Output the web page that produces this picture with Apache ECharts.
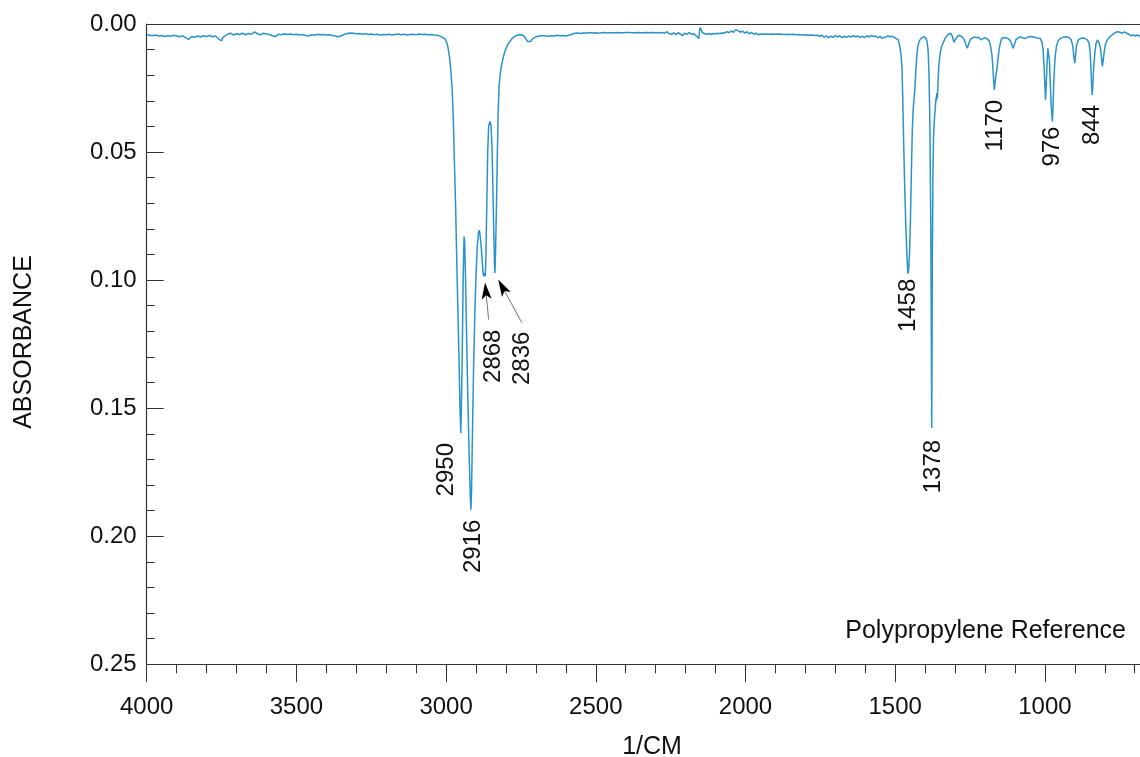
<!DOCTYPE html>
<html><head><meta charset="utf-8">
<script src="https://cdn.jsdelivr.net/npm/echarts@6/dist/echarts.min.js"></script>
<style>html,body{margin:0;padding:0;background:#fff}#c{width:1140px;height:757px}</style>
</head><body><div id="c"></div>
<script>
// ---- Data ----
const wavenumbers = [
4000,3990,3980,3970,3960,3950,3940,3930,3920,3910,3900,3890,3880,3870,3860,3850,3840,3830,3820,3810,
3800,3790,3780,3770,3760,3750,3745,3740,3730,3720,3710,3700,3690,3680,3670,3660,3650,3640,3630,3620,
3610,3600,3590,3580,3570,3560,3550,3540,3530,3520,3510,3500,3490,3480,3470,3460,3450,3440,3430,3420,
3410,3400,3390,3380,3370,3360,3350,3340,3330,3320,3310,3300,3290,3280,3270,3260,3250,3240,3230,3220,
3210,3200,3190,3180,3170,3160,3150,3140,3130,3120,3110,3100,3090,3080,3070,3060,3050,3040,3030,3020,
3012,3004,2998,2993,2988,2984,2980,2976,2972,2968,2965,2961,2957,2954,2951,2949,2946,2943,2940,2938,
2935,2931,2927,2923,2919,2917,2915,2912,2908,2904,2900,2896,2892,2889,2886,2882,2878,2875,2872,2869,
2867,2864,2861,2858,2854,2850,2847,2844,2841,2838,2837,2835,2832,2829,2826,2823,2818,2813,2808,2803,
2795,2787,2778,2768,2760,2750,2742,2735,2728,2724,2718,2710,2700,2690,2680,2670,2660,2650,2640,2630,
2620,2610,2600,2590,2580,2570,2560,2550,2540,2530,2520,2510,2500,2490,2480,2470,2460,2450,2440,2430,
2420,2410,2400,2390,2380,2370,2360,2350,2340,2330,2320,2310,2300,2290,2280,2270,2262,2255,2248,2240,
2232,2225,2218,2210,2203,2195,2188,2180,2172,2165,2160,2156,2152,2148,2144,2138,2130,2122,2115,2108,
2100,2092,2085,2078,2070,2062,2055,2048,2040,2033,2029,2025,2018,2010,2002,1995,1988,1980,1972,1965,
1958,1950,1940,1930,1920,1910,1900,1890,1880,1870,1860,1850,1840,1830,1820,1810,1800,1790,1780,1770,
1760,1752,1745,1738,1730,1722,1715,1708,1700,1692,1685,1678,1670,1662,1655,1648,1640,1632,1625,1618,
1610,1602,1595,1588,1580,1572,1565,1558,1550,1545,1540,1532,1525,1518,1510,1503,1497,1490,1485,1480,
1477,1474,1471,1468,1465,1462,1459,1457,1455,1452,1449,1446,1443,1440,1437,1434,1431,1428,1424,1419,
1413,1406,1399,1394,1390,1387,1384,1381,1379,1378,1377,1376,1374,1372,1369,1367,1365,1363,1362,1361,
1359,1357,1355,1352,1349,1345,1340,1335,1330,1322,1315,1309,1304,1300,1295,1289,1283,1277,1270,1264,
1259,1254,1248,1242,1235,1228,1221,1214,1208,1200,1193,1186,1181,1177,1174,1172,1169,1166,1163,1160,
1157,1153,1149,1144,1138,1130,1122,1115,1110,1106,1102,1097,1090,1083,1075,1066,1058,1050,1041,1033,
1025,1016,1010,1006,1003,1000,998,996,993,990,988,985,982,979,975,973,971,968,965,961,
956,948,940,930,920,912,907,903,900,897,894,888,880,870,860,853,849,846,844,842,
840,837,833,829,825,820,815,811,808,805,802,798,793,785,775,765,758,750,742,735,
728,720,712,705,698,690,683,675,668,660,650,640,630,620
];
const absorbance = [
.0042,.0044,.0046,.0043,.0047,.0045,.0049,.0046,.0048,.0044,.0047,.0050,.0046,.0053,.0060,.0049,.0052,.0047,.0051,.0046,
.0049,.0045,.0050,.0047,.0058,.0066,.0052,.0057,.0040,.0036,.0043,.0038,.0041,.0036,.0042,.0037,.0040,.0031,.0038,.0042,
.0036,.0039,.0041,.0046,.0049,.0040,.0042,.0038,.0041,.0039,.0042,.0040,.0043,.0041,.0045,.0047,.0042,.0044,.0040,.0042,
.0041,.0043,.0042,.0045,.0047,.0050,.0046,.0041,.0037,.0035,.0036,.0038,.0037,.0040,.0038,.0041,.0039,.0042,.0040,.0043,
.0041,.0042,.0040,.0043,.0041,.0039,.0042,.0040,.0043,.0041,.0040,.0042,.0039,.0041,.0040,.0042,.0041,.0043,.0044,.0047,
.0052,.0058,.0072,.0095,.0135,.0185,.0250,.0370,.0550,.0720,.0890,.1100,.1300,.1480,.1597,.1500,.1280,.0990,.0830,.0850,
.1000,.1250,.1480,.1680,.1850,.1896,.1820,.1600,.1330,.1130,.0980,.0870,.0815,.0805,.0830,.0880,.0950,.0985,.0972,.0985,
.0900,.0700,.0500,.0400,.0380,.0395,.0470,.0620,.0800,.0950,.0972,.0900,.0720,.0520,.0340,.0240,.0185,.0150,.0125,.0105,
.0082,.0068,.0055,.0046,.0043,.0042,.0045,.0055,.0068,.0075,.0068,.0056,.0050,.0047,.0046,.0046,.0048,.0046,.0047,.0044,
.0046,.0045,.0047,.0044,.0040,.0036,.0035,.0037,.0034,.0036,.0033,.0035,.0034,.0036,.0034,.0033,.0035,.0034,.0034,.0033,
.0034,.0034,.0033,.0033,.0034,.0034,.0033,.0034,.0034,.0033,.0034,.0033,.0034,.0034,.0033,.0036,.0030,.0038,.0040,.0035,
.0042,.0034,.0039,.0045,.0036,.0040,.0033,.0041,.0038,.0046,.0040,.0056,.0014,.0022,.0034,.0036,.0040,.0038,.0041,.0037,
.0039,.0036,.0038,.0034,.0036,.0030,.0034,.0028,.0032,.0022,.0017,.0026,.0032,.0028,.0036,.0030,.0038,.0033,.0040,.0036,
.0042,.0039,.0040,.0039,.0040,.0039,.0040,.0039,.0040,.0041,.0040,.0041,.0040,.0042,.0041,.0043,.0042,.0044,.0043,.0045,
.0044,.0048,.0044,.0052,.0046,.0054,.0047,.0052,.0045,.0050,.0046,.0053,.0048,.0052,.0047,.0051,.0046,.0050,.0047,.0052,
.0048,.0053,.0046,.0050,.0045,.0049,.0047,.0054,.0048,.0056,.0049,.0051,.0046,.0050,.0048,.0052,.0055,.0062,.0085,.0125,
.0180,.0330,.0500,.0650,.0770,.0870,.0950,.0975,.0960,.0890,.0760,.0580,.0420,.0335,.0290,.0250,.0180,.0125,.0085,.0065,
.0055,.0050,.0053,.0065,.0105,.0200,.0400,.0800,.1300,.1577,.1300,.0930,.0600,.0440,.0370,.0340,.0310,.0285,.0300,.0270,
.0290,.0230,.0175,.0135,.0108,.0088,.0074,.0060,.0050,.0040,.0036,.0048,.0072,.0062,.0056,.0044,.0046,.0050,.0060,.0080,
.0095,.0075,.0058,.0052,.0050,.0054,.0052,.0062,.0055,.0053,.0058,.0066,.0090,.0120,.0165,.0205,.0257,.0225,.0195,.0175,
.0140,.0100,.0075,.0056,.0050,.0053,.0058,.0066,.0082,.0095,.0080,.0062,.0055,.0050,.0054,.0057,.0052,.0049,.0050,.0053,
.0055,.0056,.0070,.0100,.0160,.0240,.0296,.0250,.0160,.0095,.0090,.0140,.0230,.0320,.0381,.0330,.0250,.0170,.0120,.0085,
.0066,.0056,.0052,.0050,.0053,.0062,.0085,.0130,.0153,.0115,.0082,.0062,.0056,.0055,.0060,.0072,.0105,.0180,.0240,.0277,
.0240,.0170,.0110,.0075,.0062,.0070,.0090,.0130,.0166,.0140,.0110,.0080,.0065,.0052,.0042,.0034,.0030,.0032,.0036,.0031,
.0035,.0040,.0046,.0043,.0047,.0043,.0048,.0045,.0049,.0046,.0048,.0047,.0049,.0047
];
const xTickLabels = [4000, 3500, 3000, 2500, 2000, 1500, 1000];
const yTickLabels = ['0.00', '0.05', '0.10', '0.15', '0.20', '0.25'];

const peakLabels = ['2950', '2916', '1458', '1378', '1170', '976', '844'];
const peakWavenumbers = [2951, 2917, 1457, 1378, 1169, 975, 842];
const peakAbsorbance = [0.1597, 0.1896, 0.0975, 0.1577, 0.0257, 0.0381, 0.0277];

const arrowLabels = ['2868', '2836'];
const arrowTipWn = [2870, 2826];
const arrowTipAbs = [0.1009, 0.0998];
const arrowTailWn = [2858, 2747];
const arrowTailAbs = [0.1154, 0.1166];
const arrowLabelWn = [2843, 2745];
const arrowLabelAbs = [0.1193, 0.1201];

// ---- Chart ----
const FONT = '"Liberation Sans", Arial, Helvetica, sans-serif';
const AXIS = '#333';
const TEXT = '#111';
const series = wavenumbers.map((w, i) => [w, absorbance[i]]);

const chart = echarts.init(document.getElementById('c'), null, {renderer: 'canvas'});
chart.setOption({
  animation: false,
  backgroundColor: '#fff',
  grid: {left: 146.7, top: 24, width: 1047.9, height: 640.3, show: false,
         containLabel: false, outerBoundsMode: 'none'},
  xAxis: [{
    type: 'value', inverse: true, min: 500, max: 4000, interval: 500,
    axisLine: {show: true, onZero: false, lineStyle: {color: AXIS, width: 1.2}},
    axisTick: {show: true, inside: false, length: 18, lineStyle: {color: AXIS}},
    minorTick: {show: true, splitNumber: 5, length: 9, lineStyle: {color: AXIS}},
    splitLine: {show: false}, minorSplitLine: {show: false},
    axisLabel: {margin: 31, color: TEXT, fontSize: 24, fontFamily: FONT,
      formatter: v => xTickLabels.indexOf(v) >= 0 ? String(v) : ''}
  }, {
    type: 'value', position: 'top', inverse: true, min: 500, max: 4000, interval: 500,
    axisLine: {show: true, onZero: false, lineStyle: {color: AXIS, width: 1.2}},
    axisTick: {show: false}, axisLabel: {show: false}, splitLine: {show: false}
  }],
  yAxis: {
    type: 'value', inverse: true, min: 0, max: 0.25, interval: 0.05,
    axisLine: {show: true, onZero: false, lineStyle: {color: AXIS, width: 1.2}},
    axisTick: {show: true, inside: true, length: 17, lineStyle: {color: AXIS}},
    minorTick: {show: true, splitNumber: 5, length: 8, lineStyle: {color: AXIS}},
    splitLine: {show: false}, minorSplitLine: {show: false},
    axisLabel: {margin: 10, color: TEXT, fontSize: 24, fontFamily: FONT,
      formatter: v => yTickLabels[Math.round(v / 0.05)] || ''}
  },
  series: [{
    type: 'line', xAxisIndex: 0, data: series, showSymbol: false, symbol: 'none', smooth: false,
    sampling: null, clip: true,
    lineStyle: {color: '#2b93cc', width: 1.5}
  }]
});

// Annotations positioned through the chart's own scales
const txt = (t, x, y, rot, align, valign, size) => ({
  type: 'text', x: x, y: y, rotation: rot, silent: true, z: 100,
  style: {text: t, fill: TEXT, fontSize: size || 24, fontFamily: FONT,
          textAlign: align, textVerticalAlign: valign, align: align, verticalAlign: valign}
});
const toPx = (w, a) => chart.convertToPixel({xAxisIndex: 0, yAxisIndex: 0}, [w, a]);
const peakLabelOffset = [[-14, 10], [2, 10], [0, 5], [2, 12], [1, 10], [0, 5], [0, 10]];
const g = [];
peakLabels.forEach((t, i) => {
  const p = toPx(peakWavenumbers[i], peakAbsorbance[i]);
  g.push(txt(t, p[0] + peakLabelOffset[i][0], p[1] + peakLabelOffset[i][1], Math.PI / 2, 'right', 'middle'));
});
arrowLabels.forEach((t, i) => {
  const tip = toPx(arrowTipWn[i], arrowTipAbs[i]);
  const tail = toPx(arrowTailWn[i], arrowTailAbs[i]);
  const lp = toPx(arrowLabelWn[i], arrowLabelAbs[i]);
  const dx = tip[0] - tail[0], dy = tip[1] - tail[1];
  const L = Math.sqrt(dx * dx + dy * dy);
  const ux = dx / L, uy = dy / L, nx = -uy, ny = ux;
  const headLen = 17, half = 5, notch = 13;
  const bx = tip[0] - headLen * ux, by = tip[1] - headLen * uy;
  const mx = tip[0] - notch * ux, my = tip[1] - notch * uy;
  g.push({type: 'line', silent: true, z: 90,
    shape: {x1: tail[0], y1: tail[1], x2: mx, y2: my},
    style: {stroke: '#777', lineWidth: 1}});
  g.push({type: 'polygon', silent: true, z: 91,
    shape: {points: [[tip[0], tip[1]], [bx + half * nx, by + half * ny], [mx, my], [bx - half * nx, by - half * ny]]},
    style: {fill: '#000'}});
  g.push(txt(t, lp[0], lp[1], Math.PI / 2, 'right', 'middle'));
});
g.push(txt('ABSORBANCE', 24.5, 342, Math.PI / 2, 'center', 'middle', 25));
g.push(txt('1/CM', 652, 747, 0, 'center', 'middle', 25));
g.push(txt('Polypropylene Reference', 1126, 631, 0, 'right', 'middle', 25));
chart.setOption({graphic: g});
</script>
</body></html>
